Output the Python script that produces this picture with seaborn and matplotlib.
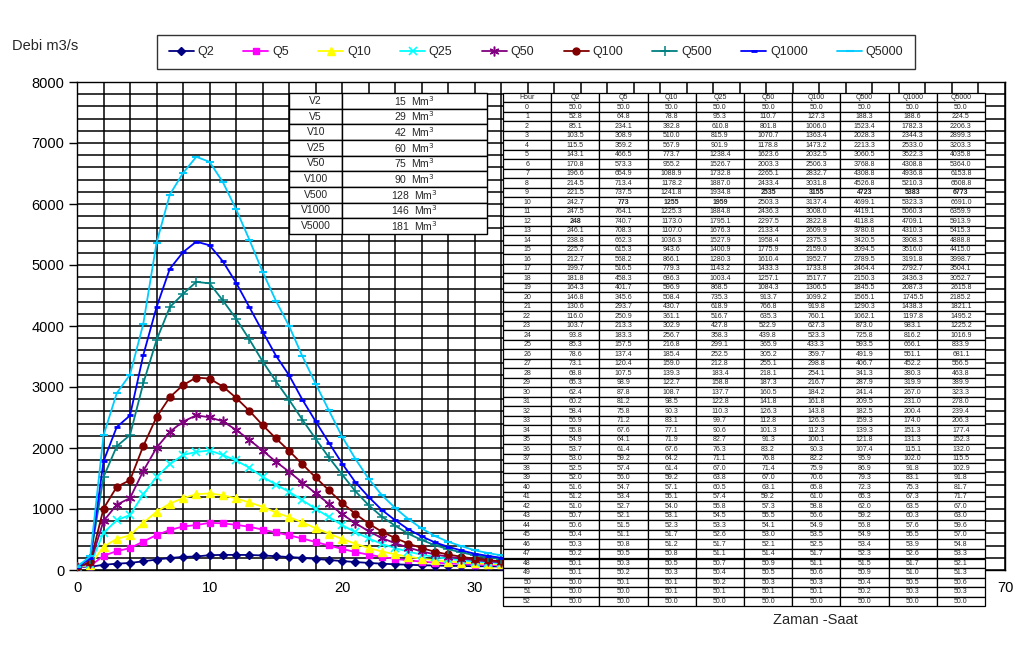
import numpy as np
import pandas as pd
import matplotlib
matplotlib.use("Agg")
import matplotlib.pyplot as plt
import seaborn as sns

# ---------------- data ----------------
hours = list(range(53))

q2 = [50.0, 52.8, 85.1, 103.5, 115.5, 143.1, 170.8, 196.6, 214.5, 221.5, 242.7, 247.5, 248.0,
      246.1, 238.8, 225.7, 212.7, 199.7, 181.8, 164.3, 146.8, 130.6, 116.0, 103.7, 93.8,
      85.3, 78.6, 73.1, 68.8, 65.3, 62.4, 60.2, 58.4, 56.9, 55.8, 54.9, 53.7, 53.0,
      52.5, 52.0, 51.6, 51.2, 51.0, 50.7, 50.6, 50.4, 50.3, 50.2, 50.1, 50.1, 50.0, 50.0, 50.0]
q5 = [50.0, 64.8, 234.1, 308.9, 359.2, 466.5, 573.3, 654.9, 713.4, 737.5, 773.0, 764.1, 740.7,
      708.3, 662.3, 615.3, 568.2, 516.5, 458.3, 401.7, 345.6, 293.7, 250.9, 213.3, 183.3,
      157.5, 137.4, 120.4, 107.5, 98.9, 87.8, 81.2, 75.8, 71.2, 67.6, 64.1, 61.4, 59.2,
      57.4, 56.0, 54.7, 53.4, 52.7, 52.1, 51.5, 51.1, 50.8, 50.5, 50.3, 50.2, 50.1, 50.0, 50.0]
q10 = [50.0, 78.8, 382.8, 510.0, 567.9, 773.7, 955.2, 1088.9, 1178.2, 1241.8, 1255.0, 1225.3, 1173.0,
       1107.0, 1036.3, 943.6, 866.1, 779.3, 686.3, 596.9, 508.4, 430.7, 361.1, 302.9, 256.7,
       216.8, 185.4, 159.0, 139.3, 122.7, 108.7, 98.5, 90.3, 83.1, 77.1, 71.9, 67.6, 64.2,
       61.4, 59.2, 57.1, 55.1, 54.0, 53.1, 52.3, 51.7, 51.2, 50.8, 50.5, 50.3, 50.1, 50.1, 50.0]
q25 = [50.0, 95.3, 610.8, 815.9, 901.9, 1238.4, 1526.7, 1732.8, 1887.0, 1934.8, 1959.0, 1884.8, 1795.1,
       1676.3, 1527.9, 1400.9, 1280.3, 1143.2, 1003.4, 868.5, 735.3, 618.9, 516.7, 427.8, 358.3,
       299.1, 252.5, 212.8, 183.4, 158.8, 137.7, 122.8, 110.3, 99.7, 90.6, 82.7, 76.3, 71.1,
       67.0, 63.8, 60.5, 57.4, 55.8, 54.5, 53.3, 52.6, 51.7, 51.1, 50.7, 50.4, 50.2, 50.1, 50.0]
q50 = [50.0, 110.7, 801.8, 1070.7, 1178.8, 1623.6, 2003.3, 2265.1, 2433.4, 2535.0, 2503.3, 2436.3, 2297.5,
       2133.4, 1958.4, 1775.9, 1610.4, 1433.3, 1257.1, 1084.3, 913.7, 766.8, 635.3, 522.9, 439.8,
       365.9, 305.2, 255.1, 218.1, 187.3, 160.5, 141.8, 126.3, 112.8, 101.3, 91.3, 83.2, 76.8,
       71.4, 67.0, 63.1, 59.2, 57.3, 55.5, 54.1, 53.0, 52.1, 51.4, 50.9, 50.5, 50.3, 50.1, 50.0]
q100 = [50.0, 127.3, 1006.0, 1363.4, 1473.2, 2032.5, 2506.3, 2832.7, 3031.8, 3155.0, 3137.4, 3008.0, 2822.8,
        2609.9, 2375.3, 2159.0, 1952.7, 1733.8, 1517.7, 1306.5, 1099.2, 919.8, 760.1, 627.3, 523.3,
        433.3, 359.7, 298.8, 254.1, 216.7, 184.2, 161.8, 143.8, 126.3, 112.3, 100.1, 90.3, 82.2,
        75.9, 70.6, 65.8, 61.0, 58.8, 56.6, 54.9, 53.5, 52.5, 51.7, 51.1, 50.6, 50.3, 50.1, 50.0]
q500 = [50.0, 188.3, 1523.4, 2028.3, 2213.3, 3060.5, 3768.8, 4308.8, 4526.8, 4723.0, 4699.1, 4419.1, 4118.8,
        3780.8, 3420.5, 3094.5, 2789.5, 2464.4, 2150.3, 1845.5, 1565.1, 1290.3, 1062.1, 873.0, 725.8,
        593.5, 491.9, 406.7, 341.3, 287.9, 241.4, 209.5, 182.5, 159.3, 139.3, 121.8, 107.4, 95.9,
        86.9, 79.3, 72.3, 65.3, 62.0, 59.2, 56.8, 54.9, 53.4, 52.3, 51.5, 50.9, 50.4, 50.2, 50.0]
q1000 = [50.0, 188.6, 1782.3, 2344.3, 2533.0, 3522.3, 4308.8, 4936.8, 5210.3, 5383.0, 5323.3, 5060.3, 4709.1,
         4310.3, 3908.3, 3516.0, 3191.8, 2792.7, 2436.3, 2087.3, 1745.5, 1438.3, 1197.8, 983.1, 816.2,
         666.1, 551.1, 452.2, 380.3, 319.9, 267.0, 231.0, 200.4, 174.0, 151.3, 131.3, 115.1, 102.0,
         91.8, 83.1, 75.3, 67.3, 63.5, 60.3, 57.6, 55.5, 53.9, 52.6, 51.7, 51.0, 50.5, 50.3, 50.0]
q5000 = [50.0, 224.5, 2206.3, 2899.3, 3203.3, 4035.8, 5364.0, 6153.8, 6508.8, 6773.0, 6691.0, 6359.9, 5913.9,
         5415.3, 4888.8, 4415.0, 3998.7, 3504.1, 3052.7, 2615.8, 2185.2, 1821.1, 1495.2, 1225.2, 1016.9,
         833.9, 681.1, 556.5, 463.8, 389.9, 323.3, 278.0, 239.4, 206.3, 177.4, 152.3, 132.0, 115.5,
         102.9, 91.8, 81.7, 71.7, 67.0, 63.0, 59.6, 57.0, 54.8, 53.3, 52.1, 51.3, 50.6, 50.3, 50.0]

series_names = ["Q2", "Q5", "Q10", "Q25", "Q50", "Q100", "Q500", "Q1000", "Q5000"]
series_values = [q2, q5, q10, q25, q50, q100, q500, q1000, q5000]

volume_labels = ["V2", "V5", "V10", "V25", "V50", "V100", "V500", "V1000", "V5000"]
volume_values = [15, 29, 42, 60, 75, 90, 128, 146, 181]

x_ticks = [0, 10, 20, 30, 40, 50, 60, 70]
y_ticks = [0, 1000, 2000, 3000, 4000, 5000, 6000, 7000, 8000]

# ---------------- styles ----------------
styles = {
    "Q2":    dict(color="#000080", marker="D", ms=4.5, mew=1.0),
    "Q5":    dict(color="#FF00FF", marker="s", ms=4.5, mew=1.0),
    "Q10":   dict(color="#FFFF00", marker="^", ms=5.5, mew=1.0),
    "Q25":   dict(color="#00FFFF", marker="x", ms=5.5, mew=1.2),
    "Q50":   dict(color="#800080", marker=(6, 2, 0), ms=7, mew=1.1),
    "Q100":  dict(color="#800000", marker="o", ms=5, mew=1.0),
    "Q500":  dict(color="#008080", marker="+", ms=7, mew=1.1),
    "Q1000": dict(color="#0000FF", marker="_", ms=5, mew=2.0),
    "Q5000": dict(color="#00CCFF", marker="_", ms=6, mew=1.5),
}

sns.set_style("white")
plt.rcParams["font.family"] = ["Liberation Sans", "DejaVu Sans"]

W, H = 1024, 660
fig = plt.figure(figsize=(W / 100, H / 100), dpi=100)
fig.patch.set_facecolor("white")

ax = fig.add_axes([77 / W, (H - 570) / H, (1005 - 77) / W, (570 - 82) / H])

df = pd.DataFrame({"Hour": hours})
for name, vals in zip(series_names, series_values):
    df[name] = vals

for name in series_names:
    st = styles[name]
    sns.lineplot(data=df, x="Hour", y=name, ax=ax, color=st["color"], marker=st["marker"],
                 markersize=st["ms"], markeredgecolor=st["color"], markeredgewidth=st["mew"],
                 linewidth=1.3, label=name, legend=False, zorder=3)

ax.set_xlim(0, 70)
ax.set_ylim(0, 8000)
ax.set_xticks(x_ticks)
ax.set_yticks(y_ticks)
ax.set_xticks(np.arange(0, 71, 2), minor=True)
ax.set_yticks(np.arange(0, 8001, 200), minor=True)
ax.grid(which="both", color="black", linewidth=1.1)
ax.set_axisbelow(True)
ax.tick_params(which="minor", length=0)
ax.tick_params(axis="y", which="major", left=True, length=6, width=1, direction="out",
               labelsize=10.5, pad=3, colors="black")
ax.tick_params(axis="x", which="major", bottom=False, length=0, labelsize=10.5, pad=8,
               colors="black")
ax.set_xlabel("")
ax.set_ylabel("")
for s in ax.spines.values():
    s.set_color("black")
    s.set_linewidth(1.0)

# legend
handles, labels = ax.get_legend_handles_labels()
leg = fig.legend(handles, labels, loc="center", bbox_to_anchor=(536 / W, 1 - 52 / H), ncol=9,
                 frameon=True, fancybox=False, edgecolor="black", fontsize=9,
                 handlelength=2.0, columnspacing=2.35, handletextpad=0.3, borderpad=0.9)
leg.get_frame().set_linewidth(1.0)

fig.text(12 / W, 1 - 46 / H, "Debi m3/s", fontsize=10.5, ha="left", va="center")
fig.text(815 / W, 1 - 620 / H, "Zaman -Saat", fontsize=10.5, ha="center", va="center")

# ---------------- volume table ----------------
vol_ax = fig.add_axes([289 / W, (H - 234) / H, 198 / W, 141 / H])
vol_ax.axis("off")
vol_text = [[lab, f"{v}  Mm$^3$"] for lab, v in zip(volume_labels, volume_values)]
vt = vol_ax.table(cellText=vol_text, colWidths=[0.27, 0.73], cellLoc="center",
                  bbox=[0, 0, 1, 1])
vt.auto_set_font_size(False)
for (r, c), cell in vt.get_celld().items():
    cell.set_fontsize(7.5)
    cell.set_edgecolor("black")
    cell.set_linewidth(1.0)
    cell.set_facecolor("white")

# ---------------- hydrograph data table ----------------
tab_ax = fig.add_axes([503 / W, (H - 606) / H, 482 / W, 513 / H])
tab_ax.axis("off")
peaks = [int(np.argmax(v)) for v in series_values]
cell_text = [["Hour"] + series_names]
for i, hr in enumerate(hours):
    row = [str(hr)]
    for j, vals in enumerate(series_values):
        row.append(f"{vals[i]:.0f}" if i == peaks[j] else f"{vals[i]:.1f}")
    cell_text.append(row)
tt = tab_ax.table(cellText=cell_text, cellLoc="center", bbox=[0, 0, 1, 1])
tt.auto_set_font_size(False)
for (r, c), cell in tt.get_celld().items():
    cell.set_fontsize(5)
    cell.set_edgecolor("black")
    cell.set_linewidth(0.9)
    cell.set_facecolor("white")
    cell.PAD = 0.02
    if r >= 1 and c >= 1 and (r - 1) == peaks[c - 1]:
        cell.get_text().set_fontweight("bold")

fig.savefig("out.png", dpi=100, facecolor="white")
